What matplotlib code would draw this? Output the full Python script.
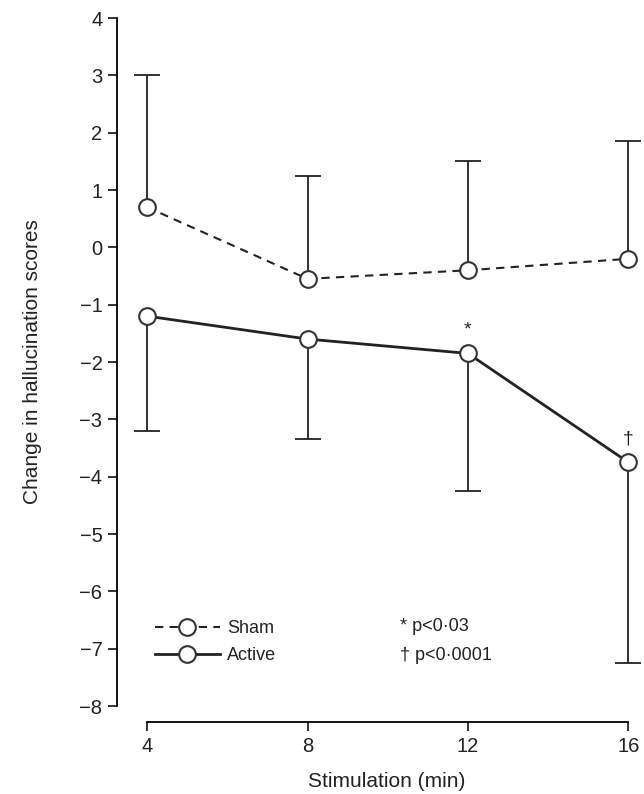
import matplotlib
matplotlib.use("Agg")
import numpy as np
import matplotlib.pyplot as plt

plt.rcParams['font.family'] = ['Liberation Sans', 'DejaVu Sans']

# Datos
minutes = [4, 8, 12, 16]
sham_mean = [0.7, -0.55, -0.4, -0.2]
sham_upper = [3.0, 1.25, 1.5, 1.85]
active_mean = [-1.2, -1.6, -1.85, -3.75]
active_lower = [-3.2, -3.35, -4.25, -7.25]
yticks = list(range(-8, 5))
sig_marks = {12: "*", 16: "\u2020"}
pvalue_notes = ["* p<0\u00b703", "\u2020 p<0\u00b70001"]

ink = "#222222"
edge = "#333333"

fig = plt.figure(figsize=(6.44, 7.94), dpi=100)
ax = fig.add_axes([117 / 644, 88 / 794, 527 / 644, 688 / 794])

# Barras de error de un solo lado
ax.vlines(minutes, sham_mean, sham_upper, color=ink, lw=1.3, zorder=2)
ax.plot(minutes, sham_upper, ls="none", marker="_", ms=19, mew=1.3, color=ink,
        zorder=2, clip_on=False)
ax.vlines(minutes, active_lower, active_mean, color=ink, lw=1.3, zorder=2)
ax.plot(minutes, active_lower, ls="none", marker="_", ms=19, mew=1.3, color=ink,
        zorder=2, clip_on=False)

ax.plot(minutes, sham_mean, color=ink, lw=1.5, ls=(0, (4, 3)),
        marker="o", ms=12, mfc="white", mec=edge, mew=1.5, label="Sham", zorder=3)
ax.plot(minutes, active_mean, color=ink, lw=2.0, ls="-",
        marker="o", ms=12, mfc="white", mec=edge, mew=1.5, label="Active", zorder=3)

# Marcas de significación
for x, s in sig_marks.items():
    y = active_mean[minutes.index(x)]
    ax.annotate(s, xy=(x, y), xytext=(0, 11), textcoords="offset points",
                ha="center", va="bottom", fontsize=14, color=ink)

ax.set_xlim(3.25, 16.39)
ax.set_ylim(-8, 4)
ax.set_xticks(minutes)
ax.set_yticks(yticks)
ax.spines["top"].set_visible(False)
ax.spines["right"].set_visible(False)
ax.spines["left"].set_linewidth(1.3)
ax.spines["bottom"].set_linewidth(1.3)
ax.spines["bottom"].set_position(("outward", 11.5))
ax.spines["bottom"].set_bounds(4, 16)
ax.tick_params(axis="both", direction="out", length=6.5, width=1.3,
               labelsize=14.5, colors=ink, pad=4)

ax.set_ylabel("Change in hallucination scores", fontsize=15, color=ink)
ax.set_xlabel("Stimulation (min)", fontsize=15, color=ink)
ax.yaxis.set_label_coords(-0.142, 0.5)
ax.xaxis.set_label_coords(0.512, -0.096)

ax.legend(loc="center left", bbox_to_anchor=(0.072, 0.093), frameon=False,
          fontsize=13, handlelength=3.6, handletextpad=0.4, labelspacing=0.55,
          borderpad=0, borderaxespad=0, numpoints=1, labelcolor=ink)

ax.text(0.537, 0.115, pvalue_notes[0], transform=ax.transAxes, fontsize=13,
        va="center", ha="left", color=ink)
ax.text(0.537, 0.074, pvalue_notes[1], transform=ax.transAxes, fontsize=13,
        va="center", ha="left", color=ink)

fig.savefig("out.png", dpi=100)
